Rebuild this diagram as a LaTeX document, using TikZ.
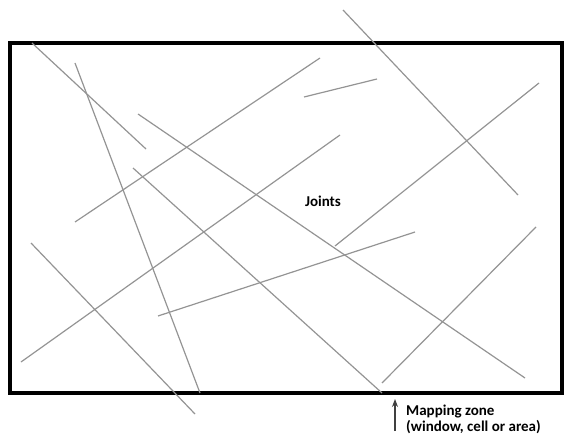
\documentclass[tikz,border=0pt]{standalone}
\usepackage{fontspec}
\usetikzlibrary{arrows.meta}
\setmainfont{Carlito}
\tikzset{
  joint/.style={draw=black!42, line width=1.2pt},
  zone/.style={draw=black, line width=3.6pt},
  lbl/.style={font=\bfseries\fontsize{15}{16}\selectfont, inner sep=0pt}
}
\begin{document}
\begin{tikzpicture}[x=1pt, y=-1pt, >={Stealth[length=8pt, width=6pt]}]
    \useasboundingbox (0,0) rectangle (564,441);

    % the mapping window
    \draw[zone] (10,43) rectangle (562,393);

    % joint traces, as pairs of end points
    \foreach \ax/\ay/\bx/\by in {
        32/43/146/149,
        75/63/200/393,
        138/114/525/378,
        75/222/320/58,
        133/168/382/393,
        340/135/21/362,
        304/97/377/79,
        343/10/518/195,
        539/83/335/246,
        158/316/415/232,
        31/243/195/414,
        536/227/382/383}
        \draw[joint] (\ax,\ay) -- (\bx,\by);

    \node[lbl] (joints) at (323,201) {Joints};

    \coordinate (tail) at (395,431);
    \coordinate (head) at (395,399);
    \draw[->, line width=1.1pt, black!75] (tail) -- (head);

    \node[lbl, anchor=north west, align=left] (zonetxt) at (406,405)
        {Mapping zone\\(window, cell or area)};
\end{tikzpicture}
\end{document}
